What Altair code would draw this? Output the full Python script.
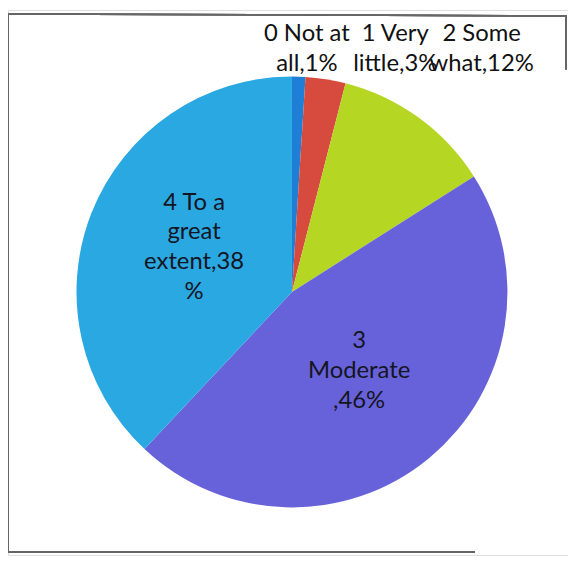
import altair as alt
import pandas as pd

categories = ["0 Not at all", "1 Very little", "2 Some what", "3 Moderate", "4 To a great extent"]
percents = [1, 3, 12, 46, 38]
label_lines = [
    "0 Not at\nall,1%",
    "1 Very\nlittle,3%",
    "2 Some\nwhat,12%",
    "3\nModerate\n,46%",
    "4 To a\ngreat\nextent,38\n%",
]
colors = ["#1f7fd6", "#d64b3e", "#b6d624", "#6762da", "#2aa8e2"]

df = pd.DataFrame({
    "idx": list(range(len(categories))),
    "category": categories,
    "pct": percents,
    "label": label_lines,
})

CX, CY, R = 286, 284, 217
FONT = "Lato"
FS = 24
LH = 30
TXT = "#15151f"

base = alt.Chart(df)

pie = base.mark_arc(stroke=None).encode(
    theta=alt.Theta("pct:Q", stack=True),
    order=alt.Order("idx:Q"),
    color=alt.Color("category:N", scale=alt.Scale(domain=categories, range=colors), legend=None),
    x=alt.value(CX),
    y=alt.value(CY),
    radius=alt.value(R),
)

# mid-angle of every slice, computed from the data before filtering
mid_base = base.transform_window(
    cum="sum(pct)", sort=[alt.SortField("idx")], frame=[None, 0]
).transform_calculate(mid="datum.cum - datum.pct / 2")

inside_layers = []
for i, extra_dy in ((3, -2), (4, -6)):
    n_lines = label_lines[i].count("\n") + 1
    inside_layers.append(
        mid_base.transform_filter(f"datum.idx == {i}").mark_text(
            font=FONT, fontSize=FS, color=TXT, lineBreak="\n", lineHeight=LH,
            align="center", baseline="middle", dy=-(n_lines - 1) * LH / 2 + extra_dy,
        ).encode(
            theta=alt.Theta("mid:Q", stack=None,
                            scale=alt.Scale(domain=[0, 100], range=[0, 6.283185307])),
            text="label:N",
            x=alt.value(CX),
            y=alt.value(CY),
            radius=alt.value(106),
        )
    )

# outside labels above the small slices (Excel-style placement)
top_x = [301, 390, 477]
top_layers = []
for i, xv in enumerate(top_x):
    top_layers.append(
        base.transform_filter(f"datum.idx == {i}").mark_text(
            font=FONT, fontSize=FS, color="#111111", lineBreak="\n", lineHeight=31,
            align="center", baseline="middle",
        ).encode(text="label:N", x=alt.value(xv), y=alt.value(24))
    )

frame_color = "#666666"
frame = [
    base.mark_rule(color=frame_color, strokeWidth=1.5).encode(
        x=alt.value(0), x2=alt.value(563), y=alt.value(4), y2=alt.value(6)),
    base.mark_rule(color=frame_color, strokeWidth=1.5).encode(
        x=alt.value(0), x2=alt.value(0), y=alt.value(4), y2=alt.value(546)),
    base.mark_rule(color=frame_color, strokeWidth=1.5).encode(
        x=alt.value(0), x2=alt.value(470), y=alt.value(546), y2=alt.value(546)),
    base.mark_rule(color=frame_color, strokeWidth=1.5).encode(
        x=alt.value(562), x2=alt.value(562), y=alt.value(6), y2=alt.value(60)),
]

chart = alt.layer(*frame, pie, *inside_layers, *top_layers).properties(
    width=564, height=549, padding=0, autosize="none",
).configure_view(stroke=None).configure(background="white")

chart.save("out.html", embed_options={"renderer": "svg", "actions": False})
